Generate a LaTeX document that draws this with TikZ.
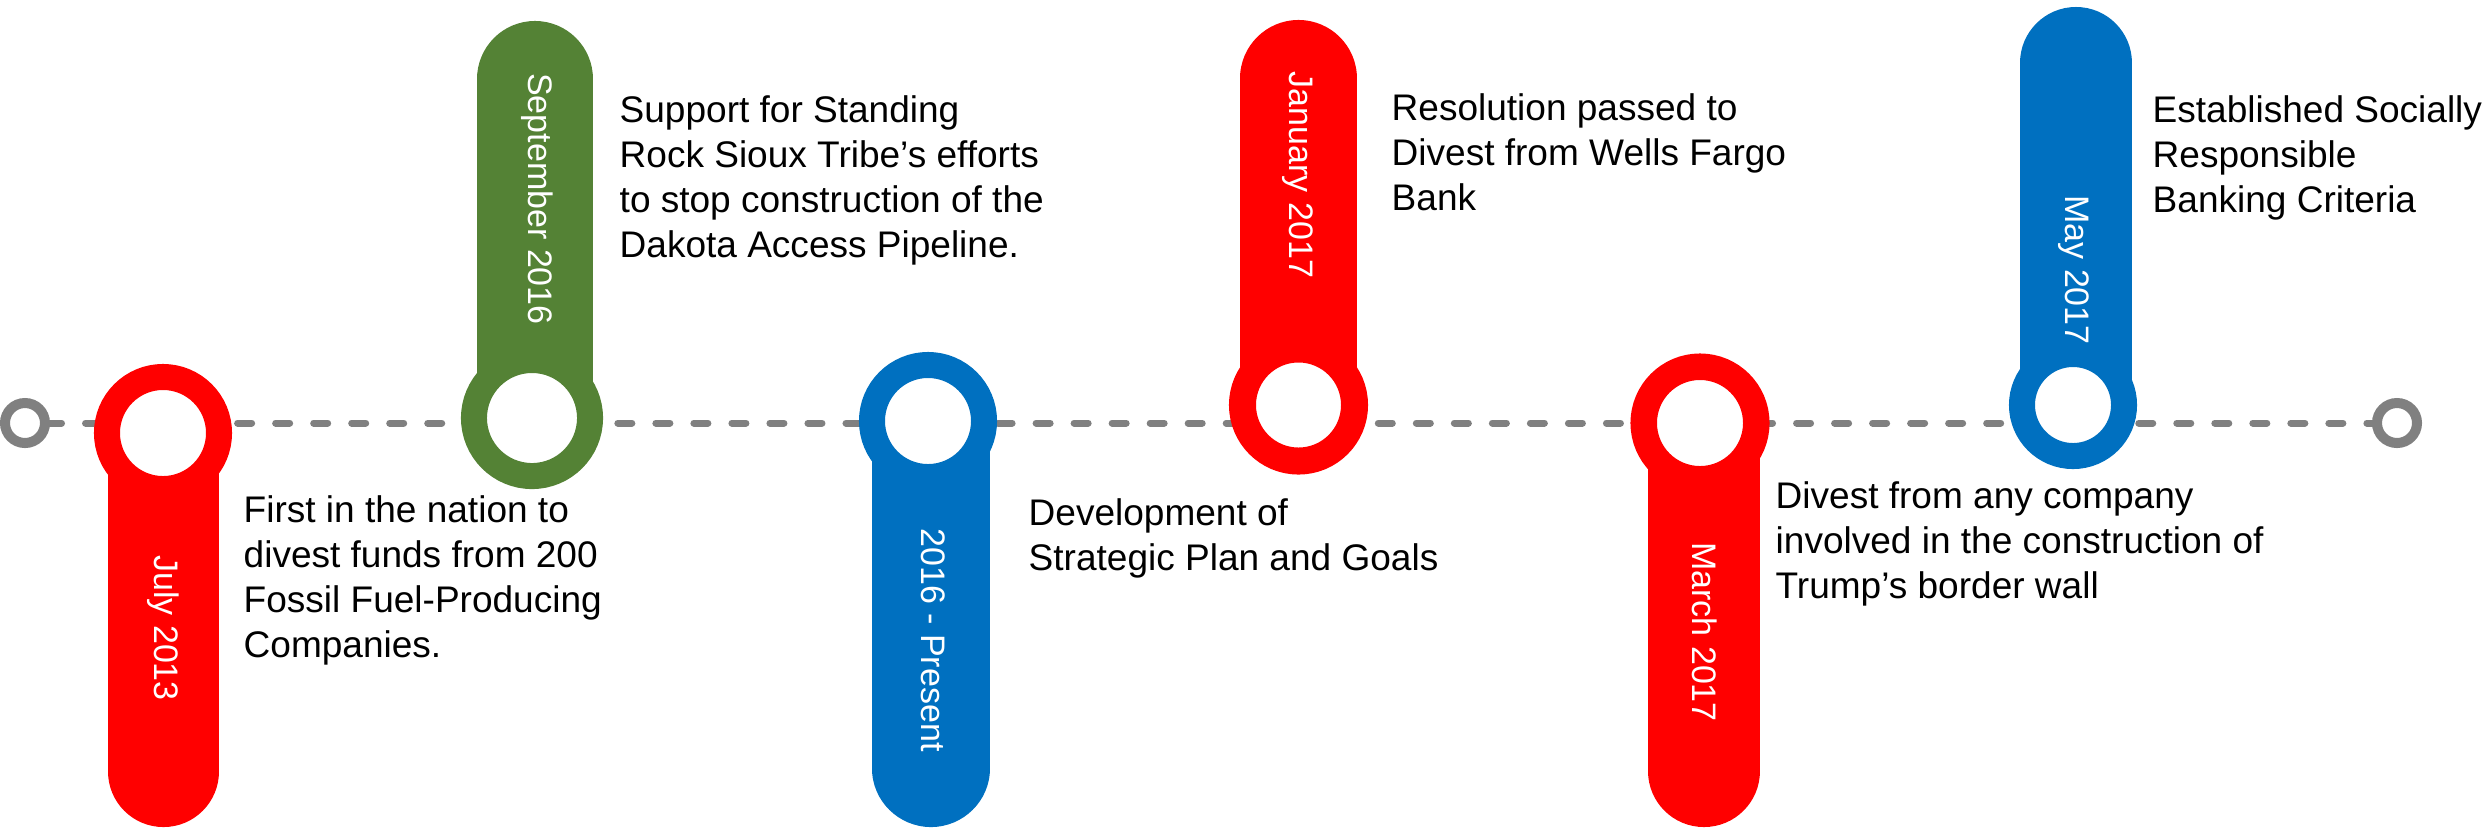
\documentclass[tikz,border=0pt]{standalone}
\usepackage{fontspec}
\setmainfont{Liberation Sans}
\usetikzlibrary{backgrounds}
\definecolor{tlred}{HTML}{FF0000}
\definecolor{tlgreen}{HTML}{548235}
\definecolor{tlblue}{HTML}{0070C0}
\definecolor{tlgray}{HTML}{808080}
\tikzset{
  ring/.style={circle, fill=white, line width=0.26cm, inner sep=0pt, outer sep=0pt},
  endring/.style={circle, draw=tlgray, fill=white, line width=0.1cm, minimum size=0.4cm, inner sep=0pt, outer sep=0pt},
  stemline/.style={line cap=round},
  datetext/.style={text=white, rotate=-90, font=\fontsize{9.67}{11}\selectfont, inner sep=0pt},
  desc/.style={anchor=base west, inner sep=0pt, font=\fontsize{10.53}{12.8}\selectfont},
  timeline/.style={draw=tlgray, line width=0.07cm, line cap=round, dash pattern=on 0.14cm off 0.24cm, dash phase=0.155cm}
}
\begin{document}
\begin{tikzpicture}[x=0.01cm, y=-0.01cm]
\useasboundingbox (0,0) rectangle (2484,829);
% end markers and timeline
\node[endring] (sL) at (25,423) {};
\node[endring] (sR) at (2397,423) {};
\begin{pgfonlayer}{background}
\draw[timeline] (sL.center) -- (sR.center);
\end{pgfonlayer}
% July 2013
\draw[stemline, draw=tlred, line width=1.11cm] (163.5,433) -- (163.5,771.5);
\node[ring, draw=tlred, minimum size=1.12cm] (r1) at (163,433) {};
\node[datetext] (d1) at (163.5,628) {July 2013};
\node[desc] (t1) at (243,522) {\begin{tabular}[t]{@{}l@{}}First in the nation to\\divest funds from 200\\Fossil Fuel-Producing\\Companies.\end{tabular}};
% September 2016
\draw[stemline, draw=tlgreen, line width=1.16cm] (535,418) -- (535,79);
\node[ring, draw=tlgreen, minimum size=1.16cm] (r2) at (532,418) {};
\node[datetext] (d2) at (537,199) {September 2016};
\node[desc] (t2) at (619,122) {\begin{tabular}[t]{@{}l@{}}Support for Standing\\Rock Sioux Tribe’s efforts\\to stop construction of the\\Dakota Access Pipeline.\end{tabular}};
% 2016 - Present
\draw[stemline, draw=tlblue, line width=1.17cm] (931,421) -- (931,768.5);
\node[ring, draw=tlblue, minimum size=1.12cm] (r3) at (928,421) {};
\node[datetext] (d3) at (933,640) {2016 - Present};
\node[desc] (t3) at (1028,525) {\begin{tabular}[t]{@{}l@{}}Development of\\Strategic Plan and Goals\end{tabular}};
% January 2017
\draw[stemline, draw=tlred, line width=1.17cm] (1298.5,405) -- (1298.5,78.5);
\node[ring, draw=tlred, line width=0.27cm, minimum size=1.12cm] (r4) at (1298.5,405) {};
\node[datetext] (d4) at (1298,175) {January 2017};
\node[desc] (t4) at (1391,120) {\begin{tabular}[t]{@{}l@{}}Resolution passed to\\Divest from Wells Fargo\\Bank\end{tabular}};
% March 2017
\draw[stemline, draw=tlred, line width=1.12cm] (1704,423) -- (1704,771);
\node[ring, draw=tlred, line width=0.265cm, minimum size=1.125cm] (r5) at (1700,423) {};
\node[datetext] (d5) at (1705,632) {March 2017};
\node[desc] (t5) at (1775,508) {\begin{tabular}[t]{@{}l@{}}Divest from any company\\involved in the construction of\\Trump’s border wall\end{tabular}};
% May 2017
\draw[stemline, draw=tlblue, line width=1.12cm] (2076,405) -- (2076,63);
\node[ring, draw=tlblue, minimum size=1.02cm] (r6) at (2073,405) {};
\node[datetext] (d6) at (2074,270) {May 2017};
\node[desc] (t6) at (2152,122) {\begin{tabular}[t]{@{}l@{}}Established Socially\\Responsible\\Banking Criteria\end{tabular}};
\end{tikzpicture}
\end{document}
